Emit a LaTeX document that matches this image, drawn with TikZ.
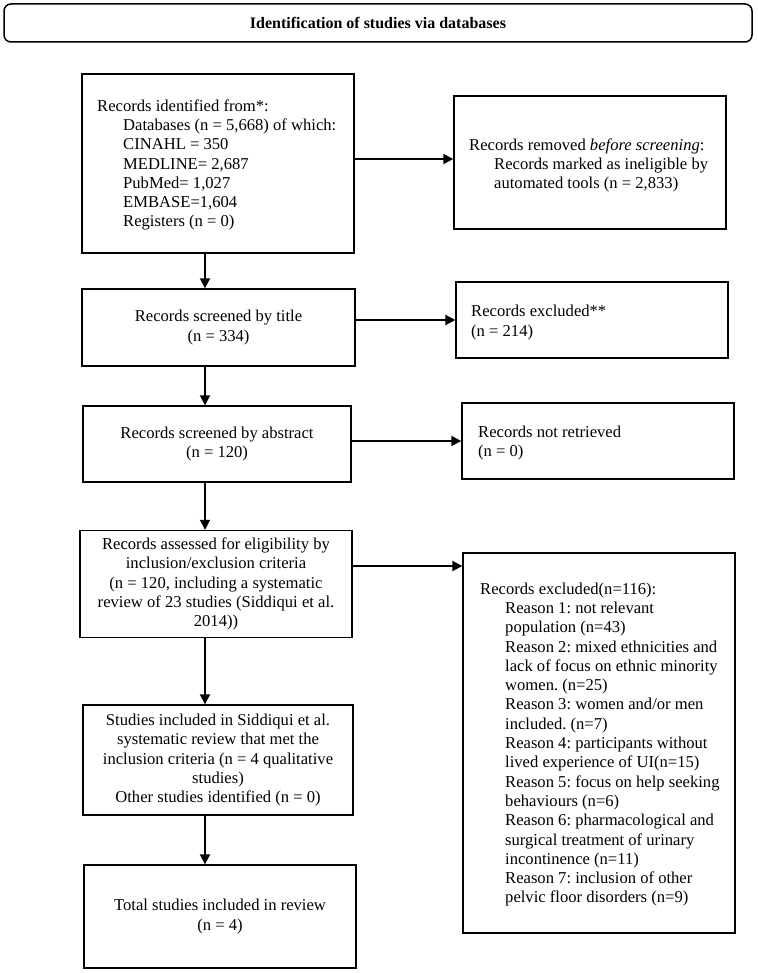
\documentclass[tikz,border=0pt]{standalone}
\usepackage{fontspec}
\setmainfont{Liberation Serif}
\usetikzlibrary{arrows.meta}
\begin{document}
\frenchspacing
\begin{tikzpicture}[x=1pt,y=-1pt,
  box/.style={draw, line width=1.4pt, inner sep=0pt, font=\fontsize{16.6}{19.3}\selectfont},
  cbox/.style={box, align=center},
  txt/.style={inner sep=0pt, anchor=west, align=left, font=\fontsize{16.6}{19.3}\selectfont},
  arr/.style={line width=1.8pt, -{Triangle[length=10pt,width=10pt]}}
]
\useasboundingbox (0,0) rectangle (757,973);
\fill[white] (0,0) rectangle (757,973);

\node[draw, line width=1.5pt, rounded corners=7pt, minimum width=748pt, minimum height=38pt,
      font=\fontsize{16}{19}\selectfont\bfseries] (b0) at (378,23) {Identification of studies via databases};

\newcommand{\ti}{\hspace*{26pt}}
\newcommand{\tj}{\hspace*{25pt}}

% boxes
\node[box, minimum width=272pt, minimum height=179pt] (b1) at (218,163.5) {};
\node[box, minimum width=272pt, minimum height=133pt] (b2) at (590,162.5) {};
\node[cbox, minimum width=273pt, minimum height=77pt] (b3) at (218.5,327.5)
  {Records screened by title\\(n = 334)};
\node[box, minimum width=272pt, minimum height=76pt] (b4) at (592,320) {};
\node[cbox, minimum width=268pt, minimum height=76pt] (b5) at (217,444)
  {Records screened by abstract\\(n = 120)};
\node[box, minimum width=272pt, minimum height=76pt] (b6) at (598,441) {};
\node[cbox, minimum width=272pt, minimum height=107pt] (b7) at (216,584)
  {Records assessed for eligibility by\\
   inclusion/exclusion criteria\\
   (n = 120, including a systematic\\
   review of 23 studies (Siddiqui et al.\\
   2014))};
\node[box, minimum width=272pt, minimum height=380pt] (b8) at (599,743) {};
\node[cbox, minimum width=270pt, minimum height=110pt] (b9) at (218,760)
  {Studies included in Siddiqui et al.\\
   systematic review that met the\\
   inclusion criteria (n = 4 qualitative\\
   studies)\\
   Other studies identified (n = 0)};
\node[cbox, minimum width=272pt, minimum height=103pt] (b10) at (220,916.5)
  {Total studies included in review\\(n = 4)};

% left-aligned texts
\node[txt] (t1) at (97,165)
  {Records identified from*:\\
   \ti Databases (n = 5,668) of which:\\
   \ti CINAHL = 350\\
   \ti MEDLINE= 2,687\\
   \ti PubMed= 1,027\\
   \ti EMBASE=1,604\\
   \ti Registers (n = 0)};
\node[txt] (t2) at (469,165.5)
  {Records removed \textit{before screening}:\\
   \tj Records marked as ineligible by\\
   \tj automated tools (n = 2,833)};
\node[txt] (t4) at (471,322.5) {Records excluded**\\(n = 214)};
\node[txt] (t6) at (478,443) {Records not retrieved\\(n = 0)};
\node[txt] (t8) at (480,744.5)
  {Records excluded(n=116):\\
   \tj Reason 1: not relevant\\
   \tj population (n=43)\\
   \tj Reason 2: mixed ethnicities and\\
   \tj lack of focus on ethnic minority\\
   \tj women. (n=25)\\
   \tj Reason 3: women and/or men\\
   \tj included. (n=7)\\
   \tj Reason 4: participants without\\
   \tj lived experience of UI(n=15)\\
   \tj Reason 5: focus on help seeking\\
   \tj behaviours (n=6)\\
   \tj Reason 6: pharmacological and\\
   \tj surgical treatment of urinary\\
   \tj incontinence (n=11)\\
   \tj Reason 7: inclusion of other\\
   \tj pelvic floor disorders (n=9)};

% vertical connectors
\coordinate (ax) at (205,0);
\draw[arr] (b1.south -| ax) -- (b3.north -| ax);
\draw[arr] (b3.south -| ax) -- (b5.north -| ax);
\draw[arr] (b5.south -| ax) -- (b7.north -| ax);
\draw[arr] (b7.south -| ax) -- (b9.north -| ax);
\draw[arr] (b9.south -| ax) -- (b10.north -| ax);

% horizontal connectors
\draw[arr] ([yshift=4.5pt]b1.east) coordinate (a1) -- (a1 -| b2.west);
\draw[arr] (b3.east |- b4.west) -- (b4.west);
\draw[arr] (b5.east |- b6.west) -- (b6.west);
\draw[arr] ([yshift=18pt]b7.east) coordinate (a4) -- (a4 -| b8.west);
\end{tikzpicture}
\end{document}
